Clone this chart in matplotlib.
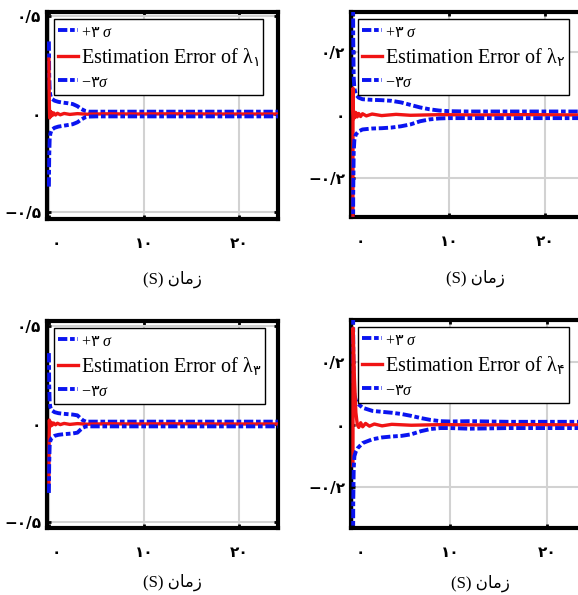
import matplotlib
matplotlib.use('Agg')
import matplotlib.pyplot as plt
from matplotlib.transforms import ScaledTranslation

plt.rcParams['mathtext.fontset'] = 'custom'
plt.rcParams['mathtext.rm'] = 'DejaVu Sans'
plt.rcParams['mathtext.it'] = 'Liberation Serif:italic'
plt.rcParams['mathtext.bf'] = 'DejaVu Sans:bold'

# ---------------- data ----------------
# lambda 1
t_sig1 = [0, 0.03, 0.08, 0.15, 0.3, 0.6, 1.0, 1.5, 2.0, 2.5, 3.0, 3.4, 3.8, 4.2, 5.0, 8.0, 12.0, 16.0, 20.0, 24.1]
up1 = [0.37, 0.20, 0.12, 0.095, 0.078, 0.068, 0.062, 0.058, 0.055, 0.051, 0.040, 0.026, 0.016, 0.012, 0.012, 0.012, 0.012, 0.012, 0.012, 0.012]
lo1 = [-0.37, -0.22, -0.13, -0.10, -0.080, -0.070, -0.064, -0.060, -0.056, -0.052, -0.042, -0.028, -0.017, -0.013, -0.012, -0.012, -0.012, -0.012, -0.012, -0.012]
t_err1 = [0, 0.02, 0.05, 0.08, 0.12, 0.18, 0.25, 0.35, 0.5, 0.7, 0.9, 1.2, 1.6, 2.2, 3.0, 4.0, 6.0, 9.0, 13.0, 18.0, 24.1]
err1 = [0.28, 0.15, 0.04, -0.02, 0.015, -0.012, 0.010, -0.008, 0.006, -0.005, 0.004, -0.004, 0.003, -0.002, 0.002, -0.001, 0.001, 0.0, 0.001, 0.0, 0.0]

# lambda 2
t_sig2 = [0, 0.03, 0.08, 0.15, 0.3, 0.6, 1.0, 2.0, 3.0, 4.0, 5.0, 6.0, 7.0, 8.0, 9.0, 10.0, 12.0, 16.0, 20.0, 24.1]
up2 = [0.60, 0.25, 0.12, 0.085, 0.065, 0.055, 0.050, 0.048, 0.047, 0.045, 0.040, 0.032, 0.024, 0.018, 0.014, 0.012, 0.011, 0.011, 0.011, 0.011]
lo2 = [-0.60, -0.25, -0.12, -0.080, -0.062, -0.052, -0.046, -0.043, -0.042, -0.040, -0.036, -0.030, -0.020, -0.014, -0.011, -0.010, -0.010, -0.010, -0.010, -0.010]
t_err2 = [0, 0.01, 0.04, 0.08, 0.12, 0.2, 0.3, 0.45, 0.6, 0.8, 1.0, 1.4, 2.0, 3.0, 4.5, 6.0, 9.0, 13.0, 18.0, 24.1]
err2 = [-0.45, 0.085, 0.02, -0.012, 0.010, -0.008, 0.008, -0.006, 0.005, -0.005, 0.004, -0.003, 0.003, -0.002, 0.002, -0.001, 0.001, 0.0, 0.001, 0.0]

# lambda 3
t_sig3 = [0, 0.03, 0.08, 0.15, 0.3, 0.6, 1.0, 1.5, 2.0, 2.5, 3.0, 3.3, 3.6, 3.9, 5.0, 8.0, 12.0, 16.0, 20.0, 24.1]
up3 = [0.36, 0.20, 0.11, 0.085, 0.070, 0.060, 0.055, 0.052, 0.050, 0.048, 0.044, 0.030, 0.018, 0.012, 0.012, 0.012, 0.012, 0.012, 0.012, 0.012]
lo3 = [-0.35, -0.20, -0.11, -0.085, -0.070, -0.060, -0.055, -0.052, -0.050, -0.048, -0.044, -0.030, -0.018, -0.012, -0.012, -0.012, -0.012, -0.012, -0.012, -0.012]
t_err3 = [0, 0.02, 0.05, 0.08, 0.12, 0.18, 0.25, 0.35, 0.5, 0.7, 0.9, 1.2, 1.6, 2.2, 3.0, 4.0, 6.0, 9.0, 13.0, 18.0, 24.1]
err3 = [-0.30, -0.10, 0.02, -0.015, 0.012, -0.010, 0.008, -0.006, 0.005, -0.004, 0.004, -0.003, 0.003, -0.002, 0.002, -0.001, 0.001, 0.0, 0.001, 0.0, 0.0]

# lambda 4
t_sig4 = [0, 0.03, 0.08, 0.15, 0.3, 0.5, 1.0, 2.0, 3.0, 4.0, 5.0, 6.0, 7.0, 8.0, 9.0, 10.0, 12.0, 16.0, 20.0, 24.1]
up4 = [0.60, 0.25, 0.13, 0.095, 0.078, 0.068, 0.055, 0.045, 0.042, 0.039, 0.035, 0.029, 0.022, 0.016, 0.012, 0.011, 0.012, 0.010, 0.010, 0.010]
lo4 = [-0.60, -0.25, -0.14, -0.10, -0.085, -0.074, -0.058, -0.046, -0.040, -0.037, -0.035, -0.030, -0.020, -0.013, -0.010, -0.010, -0.012, -0.010, -0.010, -0.010]
t_err4 = [0, 0.02, 0.15, 0.3, 0.45, 0.6, 0.8, 1.0, 1.3, 1.7, 2.2, 3.0, 4.0, 6.0, 9.0, 13.0, 18.0, 24.1]
err4 = [-0.13, 0.31, 0.15, 0.04, 0.0, -0.008, 0.007, -0.006, 0.005, -0.004, 0.003, -0.003, 0.002, -0.001, 0.001, 0.0, 0.001, 0.0]

x_ticks = [0, 10, 20]
x_ticklabels = ['۰', '۱۰', '۲۰']
y_ticks_big = [-0.5, 0, 0.5]
y_ticklabels_big = ['−۰/۵', '۰', '۰/۵']
y_ticks_small = [-0.2, 0, 0.2]
y_ticklabels_small = ['−۰/۲', '۰', '۰/۲']
lam_sub = ['۱', '۲', '۳', '۴']
xlabel_text = '(S) \uFEE5\uFE8E\uFEE3\uFEAF'

# ---------------- figure ----------------
W, H = 578, 595
fig = plt.figure(figsize=(W / 100, H / 100), dpi=100)

def px_axes(l, t, r, b):
    return fig.add_axes([l / W, 1 - b / H, (r - l) / W, (b - t) / H])

BLUE = '#0a14f0'
RED = '#f01414'
DASH = (0, (2.4, 0.7, 1.2, 0.7))
serif = ['Liberation Serif', 'DejaVu Sans']

panels = [
    dict(box=(47, 12, 278, 219), ylim=(-0.535, 0.52), yt=y_ticks_big, ytl=y_ticklabels_big,
         ts=t_sig1, up=up1, lo=lo1, te=t_err1, err=err1, sub=lam_sub[0], xl=(0.545, -0.29)),
    dict(box=(351, 12, 584, 217), ylim=(-0.324, 0.327), yt=y_ticks_small, ytl=y_ticklabels_small,
         ts=t_sig2, up=up2, lo=lo2, te=t_err2, err=err2, sub=lam_sub[1], xl=(0.532, -0.30)),
    dict(box=(47, 321, 278, 528), ylim=(-0.528, 0.523), yt=y_ticks_big, ytl=y_ticklabels_big,
         ts=t_sig3, up=up3, lo=lo3, te=t_err3, err=err3, sub=lam_sub[2], xl=(0.541, -0.261)),
    dict(box=(351, 320, 587, 528), ylim=(-0.33, 0.336), yt=y_ticks_small, ytl=y_ticklabels_small,
         ts=t_sig4, up=up4, lo=lo4, te=t_err4, err=err4, sub=lam_sub[3], xl=(0.547, -0.264)),
]

for p in panels:
    l, t, r, b = p['box']
    ax = px_axes(l, t, r, b)
    ax.plot(p['ts'], p['up'], color=BLUE, lw=2.8, ls=DASH, label='+$\\mathrm{۳}\\ \\sigma$', zorder=3)
    ax.plot(p['te'], p['err'], color=RED, lw=2.4, label='Estimation Error of λ$_{\\mathrm{%s}}$' % p['sub'], zorder=3.1)
    ax.plot(p['ts'], p['lo'], color=BLUE, lw=2.8, ls=DASH, label='−$\\mathrm{۳}\\sigma$', zorder=3.2)

    ax.set_xlim(-0.2, 24.1)
    ax.set_ylim(*p['ylim'])
    ax.set_xticks(x_ticks)
    ax.set_xticklabels(x_ticklabels, family=['DejaVu Sans'], fontsize=11, weight='bold')
    ax.set_yticks(p['yt'])
    ax.set_yticklabels(p['ytl'], family=['DejaVu Sans'], fontsize=11, weight='bold')
    ax.tick_params(direction='in', length=3, width=2, top=True, right=True, color='black')
    ax.tick_params(axis='x', pad=12)
    ax.tick_params(axis='y', pad=4)
    ax.grid(True, color='#d2d2d2', lw=1.5)
    ax.set_axisbelow(True)
    for s in ax.spines.values():
        s.set_linewidth(3)
        s.set_color('black')
        s.set_zorder(2.5)
    lab0 = ax.xaxis.get_major_ticks()[0].label1
    lab0.set_transform(lab0.get_transform() + ScaledTranslation(0.07, 0, fig.dpi_scale_trans))

    ax.set_xlabel(xlabel_text, family=serif, fontsize=12)
    ax.xaxis.set_label_coords(*p['xl'])
    ax.xaxis.label.set_verticalalignment('center')

    axw = r - l
    axh = b - t
    leg = ax.legend(loc='upper left', bbox_to_anchor=(7 / axw, 1 - 7 / axh), borderaxespad=0,
                    prop={'family': serif, 'size': 14.5}, handlelength=1.0, handletextpad=0.15,
                    borderpad=0.18, labelspacing=0.26, frameon=True, fancybox=False,
                    edgecolor='black', framealpha=1)
    leg.get_frame().set_linewidth(1.0)
    tx = leg.get_texts()
    tx[0].set_fontsize(11.5)
    tx[2].set_fontsize(11.5)

fig.savefig('out.png', dpi=100)
